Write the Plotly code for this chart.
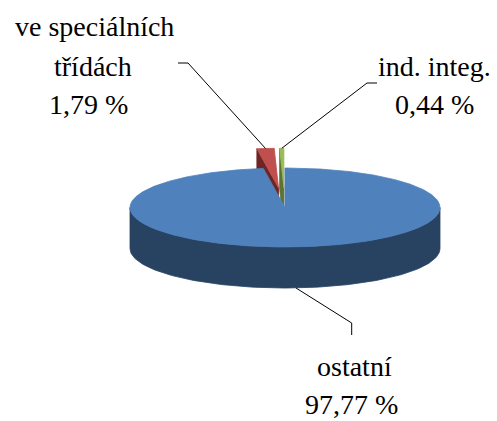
import numpy as np
import plotly.graph_objects as go

# ---- data ----
categories = ["ostatní", "ve speciálních třídách", "ind. integ."]
values = [97.77, 1.79, 0.44]
value_labels = ["97,77 %", "1,79 %", "0,44 %"]
label_lines = [["ostatní"], ["ve speciálních", "třídách"], ["ind. integ."]]

# ---- style / geometry ----
explode = [0.0, 0.5, 0.5]
top_colors = ["#4F81BD", "#C0504D", "#9BBB59"]
side_colors = ["#284262", "#6E2523", "#5E7333"]
CX, CY, RX, RY, DEPTH = 285.0, 207.5, 155.0, 39.5, 41.0
W, H = 497, 421
FONT_FAMILY = "Liberation Serif"
FONT_SIZE = 28
label_xy = [[(354, 366), (351, 404.5)],
            [(94, 26.5), (93, 66), (88, 104)],
            [(434, 66), (434, 104)]]
leader_elbows = [[(351.7, 323), (351.7, 335)],
                 [(188, 63), (178, 63)],
                 [(367, 83), (377, 83)]]


def pt(theta, r=1.0, off=(0.0, 0.0), dz=0.0):
    t = np.radians(theta)
    return (CX + off[0] + RX * r * np.sin(t), CY + off[1] - RY * r * np.cos(t) + dz)


total = sum(values)
angles = np.concatenate([[0.0], np.cumsum(values) / total * 360.0])

fig = go.Figure()


def poly(xs, ys, color, lw=0.8):
    fig.add_trace(go.Scatter(x=list(xs) + [xs[0]], y=list(ys) + [ys[0]], mode="lines",
                             fill="toself", fillcolor=color,
                             line=dict(color=color, width=lw),
                             hoverinfo="skip", showlegend=False))


slices = []
for i, v in enumerate(values):
    a0, a1 = angles[i], angles[i + 1]
    mid = (a0 + a1) / 2
    tm = np.radians(mid)
    off = (RX * explode[i] * np.sin(tm), -RY * explode[i] * np.cos(tm))
    slices.append((i, a0, a1, mid, off))

# draw back (exploded) slices first, then the big one
order = sorted(slices, key=lambda s: 1 if explode[s[0]] == 0 else 0)
for i, a0, a1, mid, off in order:
    # radial walls
    for a, sign in ((a0, -1), (a1, 1)):
        phi = a + sign * 90
        if np.cos(np.radians(phi)) < -1e-6:
            c_top = pt(0, 0, off)
            o_top = pt(a, 1, off)
            o_bot = pt(a, 1, off, DEPTH)
            c_bot = pt(0, 0, off, DEPTH)
            poly([c_top[0], o_top[0], o_bot[0], c_bot[0]],
                 [c_top[1], o_top[1], o_bot[1], c_bot[1]], side_colors[i])
    # outer side (front half only)
    lo, hi = max(a0, 90), min(a1, 270)
    if hi > lo:
        th = np.linspace(lo, hi, 120)
        top = [pt(t, 1, off) for t in th]
        bot = [pt(t, 1, off, DEPTH) for t in th[::-1]]
        pts = top + bot
        poly([p[0] for p in pts], [p[1] for p in pts], side_colors[i])
    # top face
    th = np.linspace(a0, a1, max(4, int((a1 - a0) * 2)))
    pts = [pt(0, 0, off)] + [pt(t, 1, off) for t in th]
    poly([p[0] for p in pts], [p[1] for p in pts], top_colors[i])

# leader lines
for i, a0, a1, mid, off in slices:
    c = np.cos(np.radians(mid))
    start = pt(mid, 1, off, DEPTH if c < 0 else 0)
    pts = [start] + leader_elbows[i]
    fig.add_trace(go.Scatter(x=[p[0] for p in pts], y=[p[1] for p in pts], mode="lines",
                             line=dict(color="black", width=1),
                             hoverinfo="skip", showlegend=False))

# labels
annotations = []
for i in range(len(values)):
    lines = label_lines[i] + [value_labels[i]]
    for txt, (x, y) in zip(lines, label_xy[i]):
        annotations.append(dict(x=x, y=y, xref="x", yref="y", text=txt, showarrow=False,
                                font=dict(family=FONT_FAMILY, size=FONT_SIZE, color="black"),
                                xanchor="center", yanchor="middle"))

fig.update_layout(
    width=W, height=H, margin=dict(l=0, r=0, t=0, b=0),
    paper_bgcolor="white", plot_bgcolor="white",
    font=dict(family=FONT_FAMILY),
    xaxis=dict(range=[0, W], visible=False, fixedrange=True),
    yaxis=dict(range=[H, 0], visible=False, fixedrange=True),
    annotations=annotations, showlegend=False,
)

fig.write_html("out.html", config={"displayModeBar": False},
               post_script="document.body.style.margin='0';document.body.style.overflow='hidden';")
